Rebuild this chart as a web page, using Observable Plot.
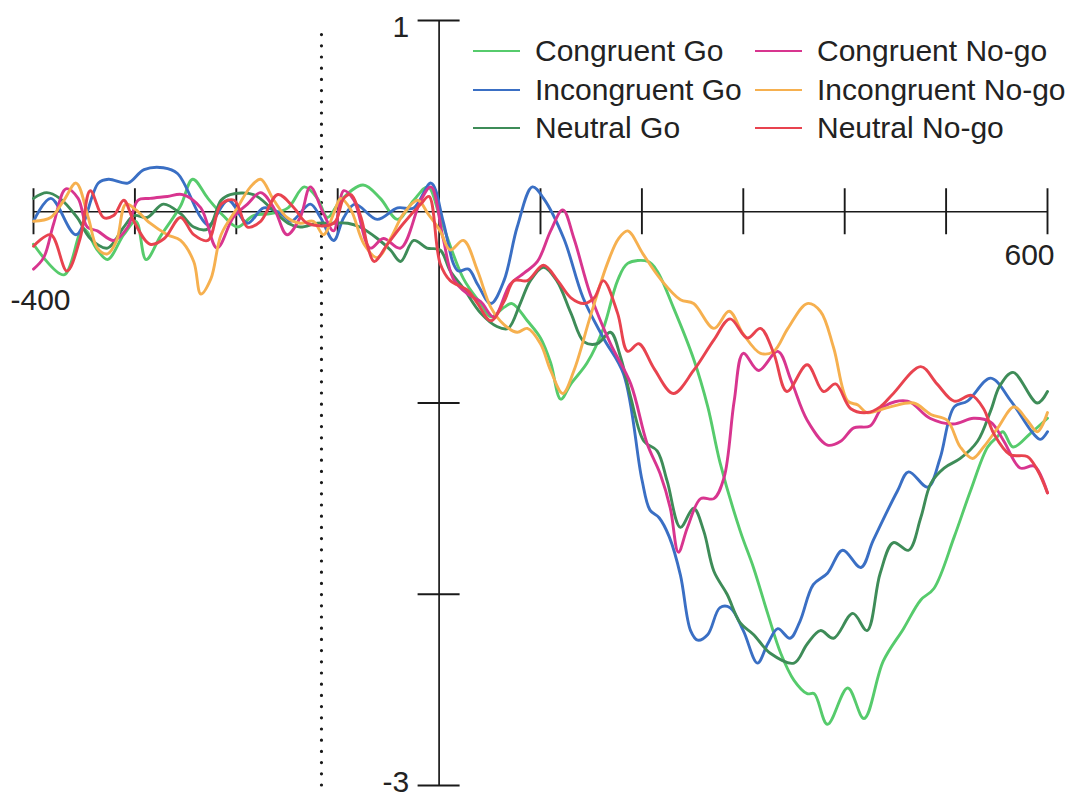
<!DOCTYPE html>
<html>
<head>
<meta charset="utf-8">
<script src="https://cdn.jsdelivr.net/npm/d3@7"></script>
<script src="https://cdn.jsdelivr.net/npm/@observablehq/plot@0.6"></script>
<style>
  body { margin: 0; background: #fff; font-family: "Liberation Sans", Arial, sans-serif; }
  #wrap { position: relative; width: 1075px; height: 798px; }
  #legend { position: absolute; left: 0; top: 0; width: 1075px; height: 160px; pointer-events: none; }
  .item { position: absolute; display: flex; align-items: center; font-size: 30px; color: #222; white-space: nowrap; line-height: 1; }
  .swatch { display: inline-block; width: 47px; height: 2.8px; margin-right: 15px; }
</style>
</head>
<body>
<div id="wrap"><div id="legend"></div></div>
<script>
// ERP waveforms (µV) by condition, time in ms relative to stimulus onset
const conditions = ["Congruent Go", "Incongruent Go", "Neutral Go", "Congruent No-go", "Incongruent No-go", "Neutral No-go"];
const colors = ["#56cb6c", "#3a6fc4", "#3e8c58", "#d8358f", "#f6b04f", "#e8434f"];

const congruentGoT = [-400,-370,-351,-337,-327,-311,-299,-289,-275,-255,-243,-228,-213,-199,-183,-166,-149,-133,-120,-110,-97,-75,-58,-41,-25,-11,1,24,41,51,64,72,87,100,110,120,130,146,162,176,186,206,215,231,251,265,277,297,310,324,337,350,363,370,383,403,419,438,458,475,488,508,524,541,550,556,566,583,600];
const congruentGoV = [-0.17,-0.33,-0.09,-0.20,-0.25,-0.12,-0.05,-0.25,-0.13,0.03,0.17,0.07,-0.02,-0.08,-0.02,-0.01,0.02,0.13,0.07,-0.03,0.06,0.14,0.07,-0.04,0.06,0.13,-0.03,-0.35,-0.48,-0.55,-0.50,-0.48,-0.57,-0.66,-0.79,-0.98,-0.90,-0.79,-0.61,-0.36,-0.27,-0.26,-0.31,-0.50,-0.77,-1.02,-1.31,-1.67,-1.86,-2.10,-2.31,-2.45,-2.52,-2.52,-2.68,-2.49,-2.65,-2.35,-2.18,-2.03,-1.97,-1.70,-1.46,-1.23,-1.18,-1.15,-1.23,-1.16,-1.08];

const incongruentGoT = [-400,-383,-358,-336,-326,-307,-291,-272,-258,-235,-227,-208,-189,-173,-156,-146,-127,-117,-104,-94,-83,-61,-41,-25,-8,4,14,19,29,38,51,64,77,92,103,123,142,162,182,200,208,217,227,238,248,255,265,277,287,300,314,324,334,346,356,369,383,398,416,428,452,463,482,494,508,521,544,564,586,593,600];
const incongruentGoV = [-0.05,0.07,-0.12,0.15,0.17,0.15,0.22,0.23,0.20,-0.03,-0.07,0.06,-0.06,0.02,-0.01,-0.05,0.04,-0.03,-0.15,-0.03,0.04,-0.04,0.02,0.02,0.15,-0.05,-0.27,-0.31,-0.30,-0.38,-0.48,-0.36,-0.08,0.13,0.07,-0.14,-0.45,-0.66,-0.85,-1.40,-1.56,-1.60,-1.70,-1.90,-2.19,-2.24,-2.21,-2.07,-2.07,-2.19,-2.36,-2.26,-2.18,-2.23,-2.14,-1.95,-1.89,-1.77,-1.86,-1.72,-1.46,-1.36,-1.44,-1.29,-1.02,-0.99,-0.87,-0.99,-1.16,-1.19,-1.15];

const neutralGoT = [-400,-387,-374,-357,-344,-327,-311,-301,-288,-272,-255,-242,-228,-215,-206,-183,-166,-149,-137,-120,-107,-90,-78,-61,-48,-38,-25,-12,1,11,24,41,57,68,80,90,103,116,130,143,156,169,179,189,202,215,225,238,251,261,271,284,297,310,327,350,363,376,389,408,422,435,448,463,475,485,498,514,531,544,553,566,590,600];
const neutralGoV = [0.07,0.10,0.07,-0.03,-0.14,-0.19,-0.08,-0.02,-0.03,0.04,-0.01,-0.08,-0.09,0.06,0.09,0.09,0.02,-0.06,-0.08,-0.06,-0.06,-0.06,-0.08,-0.14,-0.20,-0.26,-0.15,-0.19,-0.20,-0.31,-0.40,-0.53,-0.60,-0.61,-0.48,-0.36,-0.29,-0.36,-0.53,-0.68,-0.69,-0.63,-0.76,-0.97,-1.20,-1.25,-1.41,-1.65,-1.55,-1.67,-1.88,-2.00,-2.15,-2.21,-2.31,-2.36,-2.26,-2.19,-2.23,-2.10,-2.19,-1.89,-1.73,-1.77,-1.60,-1.42,-1.34,-1.29,-1.20,-1.04,-0.91,-0.84,-1.00,-0.94];

const congruentNogoT = [-400,-390,-380,-368,-356,-347,-337,-321,-307,-297,-285,-268,-253,-235,-219,-203,-189,-176,-163,-150,-137,-127,-114,-104,-94,-84,-68,-55,-38,-18,-8,4,14,28,41,54,70,84,97,110,122,133,149,169,189,205,218,228,236,245,258,271,281,291,300,315,334,347,363,383,396,409,425,438,462,484,507,527,544,557,573,587,600];
const congruentNogoV = [-0.30,-0.24,-0.06,0.12,0.07,-0.08,-0.10,-0.15,-0.08,0.06,0.07,0.08,0.09,0.02,-0.19,-0.03,0.04,0.10,0.02,-0.12,-0.03,0.13,-0.01,-0.10,0.11,0.06,-0.19,-0.14,-0.19,0.06,0.13,-0.14,-0.35,-0.43,-0.47,-0.55,-0.38,-0.32,-0.26,-0.10,0.01,-0.14,-0.43,-0.69,-0.90,-1.21,-1.37,-1.55,-1.78,-1.65,-1.50,-1.50,-1.39,-0.99,-0.74,-0.83,-0.73,-0.88,-1.09,-1.22,-1.20,-1.13,-1.12,-1.02,-0.99,-1.08,-1.11,-1.08,-1.10,-1.20,-1.34,-1.33,-1.47];

const incongruentNogoT = [-400,-383,-370,-358,-346,-337,-327,-318,-309,-299,-285,-268,-255,-242,-235,-225,-215,-199,-186,-176,-163,-150,-137,-124,-114,-104,-97,-87,-74,-61,-48,-35,-21,-11,1,11,24,38,51,64,77,87,100,110,122,133,149,166,177,186,201,218,238,251,271,286,300,317,330,344,363,376,389,403,413,422,445,468,485,501,514,526,537,551,567,580,590,600];
const incongruentNogoV = [-0.05,-0.03,0.06,0.15,-0.03,-0.19,-0.22,-0.15,0.04,0.01,-0.06,-0.12,-0.15,-0.26,-0.43,-0.35,-0.12,0.02,0.13,0.17,0.06,-0.03,-0.06,-0.05,-0.12,-0.01,0.07,0.01,-0.17,-0.24,-0.14,-0.01,0.06,-0.01,-0.10,-0.20,-0.15,-0.31,-0.50,-0.59,-0.63,-0.61,-0.69,-0.83,-0.95,-0.83,-0.55,-0.27,-0.14,-0.10,-0.22,-0.35,-0.46,-0.48,-0.61,-0.52,-0.64,-0.74,-0.73,-0.61,-0.48,-0.52,-0.71,-0.99,-1.01,-1.05,-1.02,-1.00,-1.06,-1.09,-1.23,-1.29,-1.23,-1.13,-1.02,-1.09,-1.15,-1.05];

const neutralNogoT = [-400,-383,-367,-354,-344,-331,-321,-311,-301,-285,-271,-255,-242,-228,-215,-202,-189,-176,-159,-143,-130,-104,-94,-87,-77,-70,-64,-51,-35,-18,-10,1,11,28,38,51,64,74,87,103,117,130,143,153,162,176,186,197,212,231,251,271,287,304,317,330,343,363,379,391,406,422,435,448,475,491,508,525,537,547,563,580,590,600];
const neutralNogoV = [-0.18,-0.12,-0.31,-0.14,0.11,-0.03,-0.02,0.06,-0.05,-0.17,-0.14,-0.03,-0.12,-0.15,0.04,0.06,-0.08,-0.05,0.09,0.02,-0.06,-0.06,0.07,0.09,-0.03,-0.19,-0.26,-0.17,-0.06,0.04,0.08,-0.27,-0.36,-0.41,-0.48,-0.57,-0.47,-0.36,-0.36,-0.28,-0.36,-0.45,-0.48,-0.45,-0.36,-0.53,-0.73,-0.69,-0.82,-0.95,-0.83,-0.67,-0.56,-0.66,-0.61,-0.74,-0.94,-0.80,-0.94,-0.90,-1.03,-1.05,-1.02,-0.95,-0.81,-0.90,-0.99,-0.96,-1.03,-1.16,-1.27,-1.28,-1.35,-1.47];

// Axis ticks and labels
const xTicks = [-400, -300, -200, -100, 100, 200, 300, 400, 500, 600];
const yTicks = [1, -1, -2, -3];
const xDomain = [-400, 600];
const yDomain = [-3, 1];
const stimulusMarker = [-116];

const seriesT = [congruentGoT, incongruentGoT, neutralGoT, congruentNogoT, incongruentNogoT, neutralNogoT];
const seriesV = [congruentGoV, incongruentGoV, neutralGoV, congruentNogoV, incongruentNogoV, neutralNogoV];
const rows = conditions.flatMap((name, i) => seriesT[i].map((t, j) => ({condition: name, t, v: seriesV[i][j]})));

// Frame geometry
const W = 1075, H = 798;
const M = {top: 20, right: 28, bottom: 13, left: 33};
const pxPerMs = (W - M.left - M.right) / (xDomain[1] - xDomain[0]);
const pxPerUv = (H - M.top - M.bottom) / (yDomain[1] - yDomain[0]);
const xTickHalf = 23 / pxPerUv;   // tick half-length across the time axis, in µV
const yTickHalf = 21 / pxPerMs;   // tick half-length across the amplitude axis, in ms

const ink = "#1a1a1a";
const font = "Liberation Sans, Arial, sans-serif";

const chart = Plot.plot({
  width: W,
  height: H,
  marginTop: M.top, marginRight: M.right, marginBottom: M.bottom, marginLeft: M.left,
  style: {fontFamily: font, background: "#fff", overflow: "visible"},
  x: {domain: xDomain, axis: null},
  y: {domain: yDomain, axis: null},
  color: {domain: conditions, range: colors},
  marks: [
    Plot.ruleX(stimulusMarker, {y1: yDomain[0], y2: 0.97, stroke: ink, strokeWidth: 3.2, strokeDasharray: "0 11.2", strokeLinecap: "round"}),
    Plot.ruleY([0], {x1: xDomain[0], x2: xDomain[1], stroke: ink, strokeWidth: 1.7}),
    Plot.ruleX([0], {y1: yDomain[0], y2: yDomain[1], stroke: ink, strokeWidth: 1.7}),
    Plot.ruleX(xTicks, {y1: -xTickHalf, y2: xTickHalf, stroke: ink, strokeWidth: 1.9}),
    Plot.ruleY(yTicks, {x1: -yTickHalf, x2: yTickHalf, stroke: ink, strokeWidth: 1.9}),
    Plot.line(rows, {x: "t", y: "v", z: "condition", stroke: "condition", curve: "catmull-rom", strokeWidth: 2.9, strokeLinejoin: "round"}),
    Plot.text([yDomain[1]], {x: () => 0, y: d => d, text: d => String(d), textAnchor: "end", dx: -30, dy: 7, fontSize: 30, fill: "#222"}),
    Plot.text([yDomain[0]], {x: () => 0, y: d => d, text: d => String(d), textAnchor: "end", dx: -30, dy: -3, fontSize: 30, fill: "#222"}),
    Plot.text([xDomain[0]], {x: d => d, y: () => 0, text: d => String(d), textAnchor: "middle", dx: 7, dy: 89, fontSize: 30, fill: "#222"}),
    Plot.text([xDomain[1]], {x: d => d, y: () => 0, text: d => String(d), textAnchor: "middle", dx: -18, dy: 44, fontSize: 30, fill: "#222"})
  ]
});

const wrap = document.getElementById("wrap");
wrap.insertBefore(chart, wrap.firstChild);

// Two-column legend in the upper right quadrant
const legend = document.getElementById("legend");
const colLeft = [473, 755];
const rowCenter = [51, 90, 128];
conditions.forEach((name, i) => {
  const col = Math.floor(i / 3), row = i % 3;
  const item = document.createElement("div");
  item.className = "item";
  item.style.left = colLeft[col] + "px";
  item.style.top = (rowCenter[row] - 17) + "px";
  item.style.height = "34px";
  const sw = document.createElement("span");
  sw.className = "swatch";
  sw.style.background = colors[i];
  item.appendChild(sw);
  item.appendChild(document.createTextNode(name));
  legend.appendChild(item);
});
</script>
</body>
</html>
